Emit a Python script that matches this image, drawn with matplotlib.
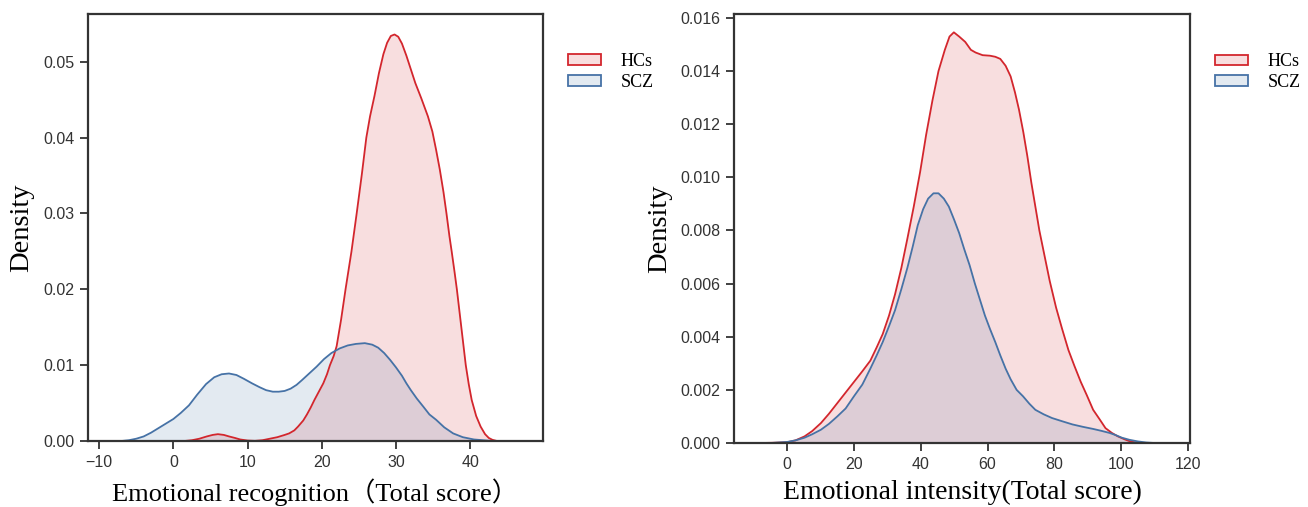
import matplotlib
matplotlib.use("Agg")
import matplotlib.pyplot as plt
from matplotlib.patches import Patch

# ---- data (x, density) ----
rec_hcs_x = [1.5, 2.5, 3.5, 4.5, 5.3, 6, 6.8, 7.5, 8.3, 9, 10, 11, 12, 13, 14, 15, 15.6,
             16.3, 16.8, 17.5, 18, 18.5, 19, 19.6, 20.2, 20.7, 21.1, 21.6, 22, 22.6, 23.2,
             24, 24.7, 25.4, 26, 26.5, 27.1, 27.7, 28.3, 28.8, 29.3, 29.8, 30.3, 30.8,
             31.4, 32, 32.6, 33.4, 34.3, 34.9, 35.4, 35.9, 36.4, 36.8, 37.2, 37.5, 37.9,
             38.2, 38.5, 38.8, 39.1, 39.4, 39.8, 40.2, 40.8, 41.4, 42, 42.5, 43, 43.6]
rec_hcs_y = [0, 0.0001, 0.0003, 0.0006, 0.0008, 0.0009, 0.0008, 0.0006, 0.0004, 0.0002,
             0.00006, 0.00002, 0.0001, 0.0003, 0.0005, 0.0008, 0.001, 0.0014, 0.0019,
             0.0027, 0.0035, 0.0044, 0.0054, 0.0065, 0.0076, 0.0088, 0.0100, 0.0112,
             0.0125, 0.0160, 0.0200, 0.0250, 0.0300, 0.0352, 0.0400, 0.0428, 0.0455,
             0.0485, 0.0510, 0.0525, 0.0534, 0.0536, 0.0533, 0.0524, 0.0508, 0.0490,
             0.0472, 0.0452, 0.0428, 0.0408, 0.0384, 0.0358, 0.0328, 0.0300, 0.0270,
             0.0250, 0.0222, 0.0200, 0.0175, 0.0150, 0.0125, 0.0100, 0.0075, 0.0054,
             0.0033, 0.0019, 0.0009, 0.0004, 0.00015, 0]
rec_scz_x = [-7, -6, -5, -4, -3, -2, -1, 0, 1, 2.1, 3.2, 4.4, 5.5, 6.5, 7.5, 8.5, 9.5,
             10.6, 11.6, 12.5, 13.4, 14.2, 15, 15.8, 16.6, 17.3, 18.3, 19.3, 20.3, 21.3,
             22.4, 23.5, 24.6, 25.8, 26.8, 27.6, 28.4, 29.2, 30, 30.8, 31.4, 32, 32.8,
             33.7, 34.5, 35.4, 36.5, 37.7, 39, 40.5, 43]
rec_scz_y = [0, 0.0001, 0.0003, 0.0006, 0.0011, 0.0017, 0.0023, 0.0029, 0.0037, 0.0047,
             0.0061, 0.0075, 0.0084, 0.0088, 0.0089, 0.0087, 0.0082, 0.0076, 0.0071,
             0.0067, 0.0065, 0.0065, 0.0066, 0.0069, 0.0074, 0.0080, 0.0089, 0.0098,
             0.0108, 0.0116, 0.0122, 0.0126, 0.0128, 0.0129, 0.0127, 0.0123, 0.0116,
             0.0107, 0.0097, 0.0086, 0.0076, 0.0067, 0.0056, 0.0045, 0.0035, 0.0028,
             0.0018, 0.0010, 0.0005, 0.0002, 0]

int_hcs_x = [-8, -4, 0, 2.5, 5.2, 7.5, 10.1, 12.5, 15, 17.5, 20, 22.5, 24.9, 26.8, 28.6,
             30.5, 32.3, 34.2, 36, 37.9, 39.8, 41.6, 43.5, 45.3, 47.2, 48.6, 49.9, 51.5,
             53.3, 55, 56.4, 58.5, 60.7, 62.3, 63.8, 65.4, 66.9, 68.2, 69.4, 70.7, 71.9,
             73.1, 74.3, 75.5, 76.8, 78.6, 80.5, 82.3, 84.2, 86, 87.9, 89.7, 91.6, 93.5,
             95.3, 97.2, 99, 101, 102.7, 104.5, 106]
int_hcs_y = [0, 0.00001, 0.00003, 0.0001, 0.00025, 0.00045, 0.00075, 0.0011, 0.0015,
             0.0019, 0.0023, 0.0027, 0.0031, 0.0036, 0.0041, 0.0048, 0.0056, 0.0066,
             0.0077, 0.0089, 0.0102, 0.0116, 0.0129, 0.0140, 0.0148, 0.0153, 0.01546,
             0.0153, 0.0151, 0.0148, 0.0147, 0.0146, 0.01458, 0.01454, 0.01446, 0.0142,
             0.0138, 0.0132, 0.01255, 0.0117, 0.0108, 0.0098, 0.0089, 0.0080, 0.0072,
             0.0061, 0.0051, 0.0043, 0.0035, 0.0029, 0.0023, 0.0018, 0.00125, 0.0009,
             0.00056, 0.00038, 0.00025, 0.00014, 0.00006, 0.00002, 0]
int_scz_x = [-5, 0, 2.5, 5.2, 7.5, 10.1, 12.5, 15, 17.5, 20, 22.5, 24.9, 26.8, 28.6, 30.5,
             32.3, 34.2, 36, 37.6, 39.1, 40.7, 42.2, 43.8, 45.3, 46.9, 48.4, 50, 51.5, 53,
             54.6, 56.2, 57.7, 59.2, 60.7, 62.3, 63.8, 65.4, 66.9, 68.7, 70.6, 72.5, 74.3,
             76.8, 79.3, 82.3, 85.4, 88.5, 91.6, 94, 96.5, 98.3, 100.2, 102.5, 105, 107.5,
             110]
int_scz_y = [0, 0.00004, 0.0001, 0.0002, 0.00033, 0.0005, 0.00072, 0.001, 0.0013,
             0.00176, 0.0022, 0.0028, 0.0033, 0.0038, 0.0044, 0.005, 0.0058, 0.0066,
             0.0074, 0.0082, 0.0088, 0.0092, 0.0094, 0.0094, 0.0092, 0.0089, 0.0084,
             0.0079, 0.0073, 0.0067, 0.0060, 0.0054, 0.0048, 0.0043, 0.0038, 0.0033,
             0.0028, 0.0024, 0.0020, 0.00176, 0.00148, 0.00125, 0.00108, 0.00094,
             0.00082, 0.0007, 0.00061, 0.00053, 0.00046, 0.00038, 0.0003, 0.0002,
             0.00012, 0.00006, 0.00002, 0]

groups = ["HCs", "SCZ"]
rec_xticks = [-10, 0, 10, 20, 30, 40]
rec_yticks = [0.00, 0.01, 0.02, 0.03, 0.04, 0.05]
int_xticks = [0, 20, 40, 60, 80, 100, 120]
int_yticks = [0.000, 0.002, 0.004, 0.006, 0.008, 0.010, 0.012, 0.014, 0.016]

RED = "#d3262d"
BLUE = "#4672a6"
SERIF = ["Liberation Serif", "Noto Sans CJK SC", "DejaVu Serif"]
SANS = ["Liberation Sans", "DejaVu Sans"]

fig = plt.figure(figsize=(13.08, 5.07), dpi=100)
ax1 = fig.add_axes([0.0673, 0.1302, 0.3478, 0.8422])
ax2 = fig.add_axes([0.5612, 0.1262, 0.3486, 0.8462])


def draw(ax, hx, hy, sx, sy, xlim, ylim, xticks, yticks, yfmt, xlabel, xlsize):
    for x, y, c in ((hx, hy, RED), (sx, sy, BLUE)):
        ax.fill_between(x, y, 0, color=c, alpha=0.15, lw=0)
        ax.plot(x, y, color=c, lw=1.3, solid_joinstyle="round")
    ax.set_xlim(*xlim)
    ax.set_ylim(*ylim)
    ax.set_xticks(xticks)
    ax.set_yticks(yticks)
    ax.set_yticklabels([yfmt.format(v) for v in yticks])
    for lab in ax.get_xticklabels() + ax.get_yticklabels():
        lab.set_family(SANS)
        lab.set_fontsize(11.5)
        lab.set_color("#333333")
    ax.tick_params(direction="out", length=6, width=1.3, color="#333333",
                   top=False, right=False, pad=4)
    for sp in ax.spines.values():
        sp.set_linewidth(1.6)
        sp.set_color("#333333")
    ax.set_xlabel(xlabel, family=SERIF, fontsize=xlsize, labelpad=6)
    ax.set_ylabel("Density", family=SERIF, fontsize=20.5, labelpad=6)
    handles = [Patch(facecolor=(RED, 0.15), edgecolor=RED, lw=1.3),
               Patch(facecolor=(BLUE, 0.15), edgecolor=BLUE, lw=1.3)]
    ax.legend(handles, groups, loc="upper left", bbox_to_anchor=(1.04, 0.925),
              frameon=False, prop={"family": SERIF, "size": 13},
              handlelength=1.8, handleheight=0.55, handletextpad=1.1,
              labelspacing=0.2, borderaxespad=0)


draw(ax1, rec_hcs_x, rec_hcs_y, rec_scz_x, rec_scz_y, (-11.5, 49.8), (0, 0.0563),
     rec_xticks, rec_yticks, "{:.2f}", "Emotional recognition\uff08Total score\uff09", 19)
draw(ax2, int_hcs_x, int_hcs_y, int_scz_x, int_scz_y, (-15.9, 120.6), (0, 0.01615),
     int_xticks, int_yticks, "{:.3f}", "Emotional intensity(Total score)", 20)

fig.savefig("out.png", dpi=100)
